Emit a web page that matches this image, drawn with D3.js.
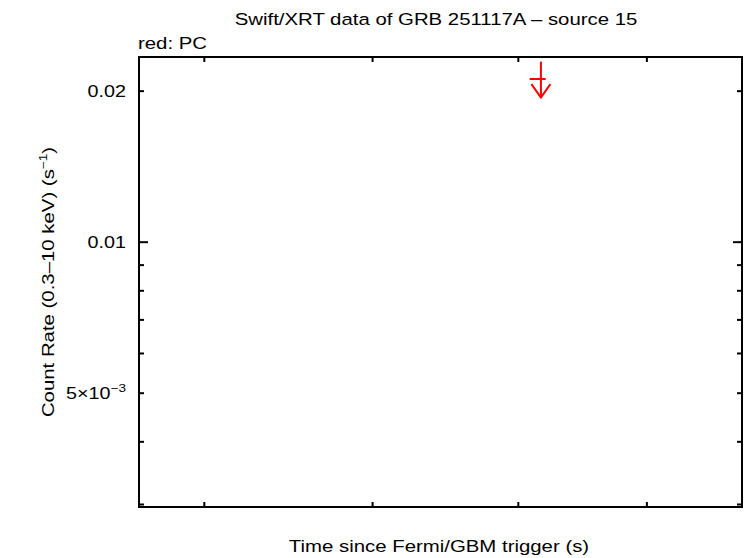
<!DOCTYPE html>
<html>
<head>
<meta charset="utf-8">
<script src="https://cdn.jsdelivr.net/npm/d3@7"></script>
<style>
  html, body { margin: 0; padding: 0; background: #fff; }
  svg { display: block; }
  text { font-family: "Liberation Sans", Arial, Helvetica, sans-serif; fill: #000; }
</style>
</head>
<body>
<div id="chart"></div>
<script>
// ---- data ----
const titleText = "Swift/XRT data of GRB 251117A \u2013 source 15";
const legendText = "red: PC";
const xLabelText = "Time since Fermi/GBM trigger (s)";

// x axis (log, seconds) - domain and unlabeled tick marks
const xDomain = [56540, 98240];
const xTickValues = [60000, 70000, 80000, 90000];

// y axis (log, count rate)
const yDomain = [0.002959, 0.02334];
const yMajorTicks = [0.01];
const yMinorTicks = [0.02, 0.009, 0.008, 0.007, 0.006, 0.005, 0.004, 0.003];
const yTickLabels = [
  { value: 0.02, base: "0.02", exp: "" },
  { value: 0.01, base: "0.01", exp: "" },
  { value: 0.005, base: "5\u00d710", exp: "\u22123" }
];

// PC mode upper limit
const ulTime = [81710];
const ulTimeStart = [80870];
const ulTimeEnd = [82070];
const ulRate = [0.02110];
const ulLineTop = [0.02285];
const ulArrowTip = [0.01937];

// ---- layout ----
const W = 746, H = 558;
const margin = { left: 139, right: 4, top: 57, bottom: 51 };
const x0 = margin.left, x1 = W - margin.right;
const y0 = margin.top, y1 = H - margin.bottom;
const SX = 1.235; // horizontal stretch of the wide plot font

const svg = d3.select("#chart").append("svg")
  .attr("width", W).attr("height", H);

const x = d3.scaleLog().domain(xDomain).range([x0, x1]);
const y = d3.scaleLog().domain(yDomain).range([y1, y0]);

// axes: ticks on all four sides pointing inward
const tickStroke = 2;
function drawAxis(axis, transform) {
  const g = svg.append("g").attr("transform", transform).call(axis);
  g.select(".domain").remove();
  g.selectAll(".tick line").attr("stroke", "#000").attr("stroke-width", tickStroke);
  g.selectAll(".tick text").remove();
  return g;
}
drawAxis(d3.axisBottom(x).tickValues(xTickValues).tickSize(-5).tickFormat(""), `translate(0,${y1})`);
drawAxis(d3.axisTop(x).tickValues(xTickValues).tickSize(-5).tickFormat(""), `translate(0,${y0})`);
drawAxis(d3.axisLeft(y).tickValues(yMajorTicks).tickSize(-9).tickFormat(""), `translate(${x0},0)`);
drawAxis(d3.axisLeft(y).tickValues(yMinorTicks).tickSize(-5).tickFormat(""), `translate(${x0},0)`);
drawAxis(d3.axisRight(y).tickValues(yMajorTicks).tickSize(-9).tickFormat(""), `translate(${x1},0)`);
drawAxis(d3.axisRight(y).tickValues(yMinorTicks).tickSize(-5).tickFormat(""), `translate(${x1},0)`);

// helper for stretched text
function addText(tx, ty, anchor, size, extra) {
  return svg.append("text")
    .attr("transform", `translate(${tx},${ty})${extra || ""} scale(${SX},1)`)
    .attr("text-anchor", anchor)
    .style("font-size", size + "px");
}

// y tick labels
yTickLabels.forEach(t => {
  const tx = addText(126, y(t.value) + 6, "end", 16);
  tx.append("tspan").text(t.base);
  if (t.exp) {
    tx.append("tspan").attr("dy", -7).style("font-size", "11px").text(t.exp);
  }
});

// frame
svg.append("rect")
  .attr("x", x0).attr("y", y0)
  .attr("width", x1 - x0).attr("height", y1 - y0)
  .attr("fill", "none").attr("stroke", "#000").attr("stroke-width", 2);

// upper limit marks
const red = "#ff0000";
const ul = svg.append("g").attr("stroke", red).attr("stroke-width", 2).attr("fill", "none");
ulTime.forEach((t, i) => {
  const cx = x(t);
  ul.append("line")
    .attr("x1", x(ulTimeStart[i])).attr("x2", x(ulTimeEnd[i]))
    .attr("y1", y(ulRate[i])).attr("y2", y(ulRate[i]));
  ul.append("line")
    .attr("x1", cx).attr("x2", cx)
    .attr("y1", y(ulLineTop[i])).attr("y2", y(ulArrowTip[i]));
  const tip = y(ulArrowTip[i]);
  ul.append("polyline")
    .attr("points", `${cx - 9.5},${tip - 13.5} ${cx},${tip} ${cx + 9.5},${tip - 13.5}`);
});

// titles
addText(436, 25, "middle", 16.5).text(titleText);
addText(138, 49, "start", 16.5).text(legendText);
addText(439, 552, "middle", 16.5).text(xLabelText);

const yl = addText(54, 282, "middle", 16.5, " rotate(-90)");
yl.append("tspan").text("Count Rate (0.3\u201310 keV) (s");
yl.append("tspan").attr("dy", -7).style("font-size", "11px").text("\u22121");
yl.append("tspan").attr("dy", 7).text(")");
</script>
</body>
</html>
